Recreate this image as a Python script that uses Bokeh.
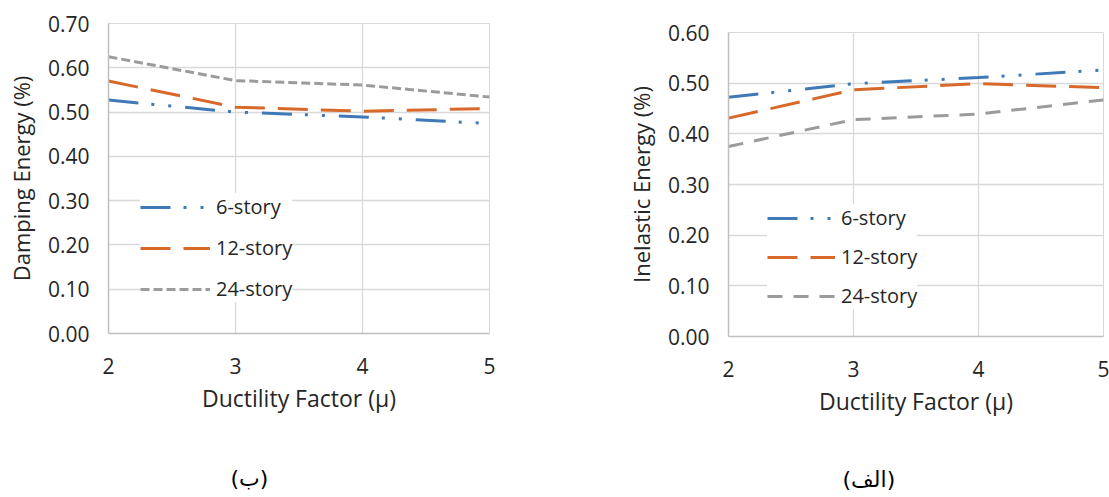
from bokeh.plotting import figure
from bokeh.layouts import row, column
from bokeh.models import FixedTicker, Legend, LegendItem, Title, Range1d, PrintfTickFormatter
from bokeh.embed import file_html
from bokeh.resources import INLINE

# ---- data ----
mu = [2, 3, 4, 5]
series_names = ["6-story", "12-story", "24-story"]

damping_6 = [0.527, 0.500, 0.489, 0.474]
damping_12 = [0.570, 0.511, 0.502, 0.508]
damping_24 = [0.625, 0.571, 0.561, 0.534]

inelastic_6 = [0.472, 0.499, 0.511, 0.526]
inelastic_12 = [0.431, 0.487, 0.499, 0.491]
inelastic_24 = [0.375, 0.428, 0.439, 0.467]

x_ticks = [2, 3, 4, 5]
damping_ticks = [0.0, 0.1, 0.2, 0.3, 0.4, 0.5, 0.6, 0.7]
inelastic_ticks = [0.0, 0.1, 0.2, 0.3, 0.4, 0.5, 0.6]

x_title = "Ductility Factor (μ)"
left_title = "Damping Energy (%)"
right_title = "Inelastic Energy (%)"
left_caption = "(ب)"
right_caption = "(الف)"

# ---- style ----
FONT = "Open Sans"
TXT = "#262626"
COLORS = ["#3F7AB7", "#D8692B", "#9B9B9B"]
GRID = "#D9D9D9"
AXIS = "#BFBFBF"


def make_panel(ys, yticks, ytitle, caption, dashes, frame, borders, legend_loc,
               legend_spacing, glyph_w, cap_offset, cap_standoff):
    fw, fh = frame
    bl, bt, br, bb = borders
    p = figure(title=None, frame_width=fw, frame_height=fh,
               min_border_left=bl, min_border_top=bt, min_border_right=br, min_border_bottom=bb,
               x_range=Range1d(mu[0], mu[-1]), y_range=Range1d(yticks[0], yticks[-1]),
               output_backend="svg", toolbar_location=None)
    p.outline_line_color = GRID
    p.background_fill_color = "white"
    p.border_fill_color = "white"

    p.xaxis.ticker = FixedTicker(ticks=x_ticks)
    p.yaxis.ticker = FixedTicker(ticks=yticks)
    p.yaxis.formatter = PrintfTickFormatter(format="%.2f")
    p.xgrid.grid_line_color = GRID
    p.ygrid.grid_line_color = GRID
    p.xgrid.grid_line_width = 1.3
    p.ygrid.grid_line_width = 1.3

    for ax in (p.xaxis[0], p.yaxis[0]):
        ax.axis_line_color = AXIS
        ax.axis_line_width = 1.5
        ax.major_tick_line_color = None
        ax.minor_tick_line_color = None
        ax.major_tick_out = 0
        ax.major_tick_in = 0
        ax.major_label_text_font = FONT
        ax.major_label_text_font_size = "21px"
        ax.major_label_text_color = TXT
        ax.axis_label_text_font = FONT
        ax.axis_label_text_font_style = "normal"
        ax.axis_label_text_color = TXT

    p.xaxis.axis_label = x_title
    p.yaxis.axis_label = ytitle
    p.xaxis.axis_label_text_font_size = "23px"
    p.yaxis.axis_label_text_font_size = "22px"
    p.xaxis.major_label_standoff = 24
    p.xaxis.axis_label_standoff = 5
    p.yaxis.major_label_standoff = 19
    p.yaxis.axis_label_standoff = 9

    items = []
    for name, y, col, dash in zip(series_names, ys, COLORS, dashes):
        r = p.line(mu, y, line_color=col, line_width=3, line_dash=dash)
        items.append(LegendItem(label=name, renderers=[r]))

    leg = Legend(items=items, location=legend_loc,
                 background_fill_color="white", background_fill_alpha=1.0,
                 border_line_color=None, glyph_width=glyph_w, glyph_height=20,
                 label_height=20, spacing=legend_spacing, padding=10, margin=0,
                 label_standoff=6, label_text_font=FONT, label_text_font_size="20px",
                 label_text_color=TXT)
    p.add_layout(leg)

    cap = Title(text=caption, align="left", offset=cap_offset, standoff=cap_standoff,
                text_font="DejaVu Sans", text_font_size="22px", text_color="#000000",
                text_font_style="normal")
    p.add_layout(cap, "below")
    return p


left = make_panel([damping_6, damping_12, damping_24], damping_ticks, left_title, left_caption,
                  ["30 13 3 14 3 14", "30 13", "9 4"],
                  (381, 310), (108, 23, 111, 164), (32, 31), 14, 70, 122, 95)
right = make_panel([inelastic_6, inelastic_12, inelastic_24], inelastic_ticks, right_title, right_caption,
                   ["30 13 3 14 3 14", "30 13", "15 11"],
                   (375, 304), (128, 32, 6, 161), (39, 27), 12, 68, 114, 90)

layout = row(column(left), column(right))
open("out.html", "w").write(file_html(layout, INLINE))
